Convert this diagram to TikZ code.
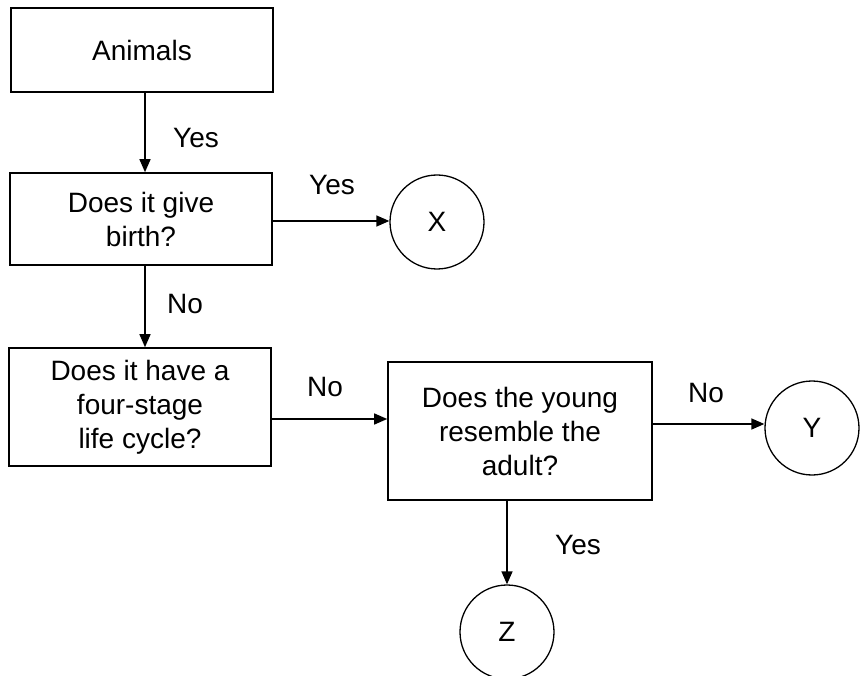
\documentclass[tikz,border=0pt]{standalone}
\usepackage{fontspec}
\setmainfont{Liberation Sans}
\usetikzlibrary{arrows.meta}
\begin{document}
\begin{tikzpicture}[x=1pt,y=-1pt,
  box/.style={draw,line width=1.6pt,minimum width=262pt,align=center,font=\fontsize{28}{34}\selectfont,inner sep=0pt},
  circ/.style={draw,circle,line width=1.3pt,minimum size=94pt,inner sep=0pt,font=\fontsize{28}{34}\selectfont},
  conn/.style={line width=1.4pt,-{Triangle[length=13pt,width=11pt]}},
  lbl/.style={font=\fontsize{28}{34}\selectfont,inner sep=0pt}]
\useasboundingbox (0,0) rectangle (862,676);
\node[box,minimum height=84pt] (animals) at (142,50) {Animals};
\node[box,minimum height=92pt] (birth) at (141,219) {Does it give\\birth?};
\node[box,minimum height=118pt] (four) at (140,407) {Does it have a\\four-stage\\life cycle?};
\node[box,minimum height=138pt,minimum width=264pt] (young) at (520,431) {Does the young\\resemble the\\adult?};
\node[circ] (X) at (437,222) {X};
\node[circ] (Y) at (812,428) {Y};
\node[circ] (Z) at (507,632) {Z};
\draw[conn] (animals.south -| 145,0) -- (birth.north -| 145,0);
\node[lbl] (l1) at (196,138) {Yes};
\draw[conn] (birth.east |- 0,221) -- (X.west |- 0,221);
\node[lbl] (l2) at (332,185) {Yes};
\draw[conn] (birth.south -| 145,0) -- (four.north -| 145,0);
\node[lbl] (l3) at (185,304) {No};
\draw[conn] (four.east |- 0,419) -- (young.west |- 0,419);
\node[lbl] (l4) at (325,387) {No};
\draw[conn] (young.east |- 0,424) -- (Y.west |- 0,424);
\node[lbl] (l5) at (706,393) {No};
\draw[conn] (young.south -| 507,0) -- (Z.north);
\node[lbl] (l6) at (578,545) {Yes};
\end{tikzpicture}
\end{document}
